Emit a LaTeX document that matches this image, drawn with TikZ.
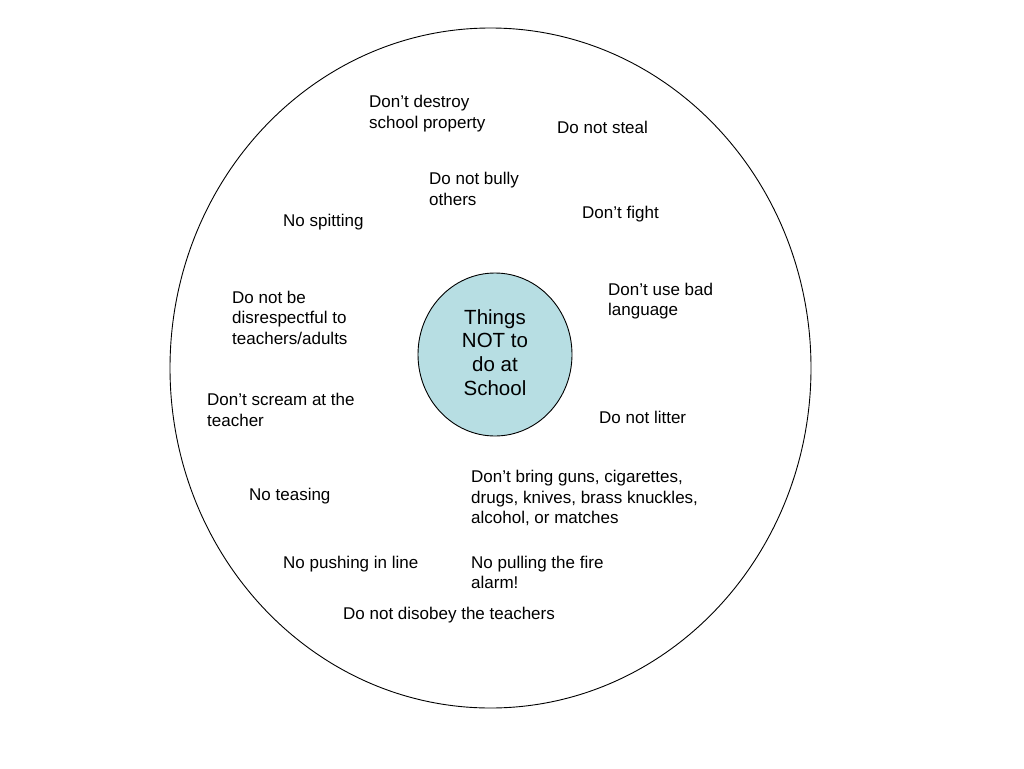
\documentclass[tikz,border=0pt]{standalone}
\usepackage{fontspec}
\setmainfont{Liberation Sans}
\usetikzlibrary{shapes.geometric}
\definecolor{hubfill}{RGB}{183,222,227}
\tikzset{
  item/.style={anchor=west, align=left, inner sep=0pt, font=\fontsize{17}{20.5}\selectfont},
  hub/.style={ellipse, draw=black, line width=0.9pt, fill=hubfill, minimum width=154pt, minimum height=163pt, inner sep=0pt},
  hubtext/.style={align=center, inner sep=0pt, font=\fontsize{20.5}{23.7}\selectfont},
  outer/.style={ellipse, draw=black, line width=0.9pt, minimum width=641pt, minimum height=680pt, inner sep=0pt}
}
\begin{document}
\begin{tikzpicture}[x=1pt,y=-1pt]
\useasboundingbox (0,0) rectangle (1024,768);
\node[outer] (ring) at (490.5,368) {};
\node[hub] (hub) at (495,354.5) {};
\node[hubtext] (hublabel) at (495,352.5) {Things\\NOT to\\do at\\School};
\node[item] (destroy) at (369,113.5) {Don’t destroy\\school property};
\node[item] (steal) at (557,127) {Do not steal};
\node[item] (bully) at (429,189) {Do not bully\\others};
\node[item] (fight) at (582,214) {Don’t fight};
\node[item] (spit) at (283,222) {No spitting};
\node[item] (language) at (608,301) {Don’t use bad\\language};
\node[item] (respect) at (232,317.5) {Do not be\\disrespectful to\\teachers/adults};
\node[item] (scream) at (207,410) {Don’t scream at the\\teacher};
\node[item] (litter) at (599,417) {Do not litter};
\node[item] (guns) at (471,498) {Don’t bring guns, cigarettes,\\drugs, knives, brass knuckles,\\alcohol, or matches};
\node[item] (tease) at (249,496) {No teasing};
\node[item] (push) at (283,564) {No pushing in line};
\node[item] (alarm) at (471,572.5) {No pulling the fire\\alarm!};
\node[item] (disobey) at (343,615) {Do not disobey the teachers};
\end{tikzpicture}
\end{document}
